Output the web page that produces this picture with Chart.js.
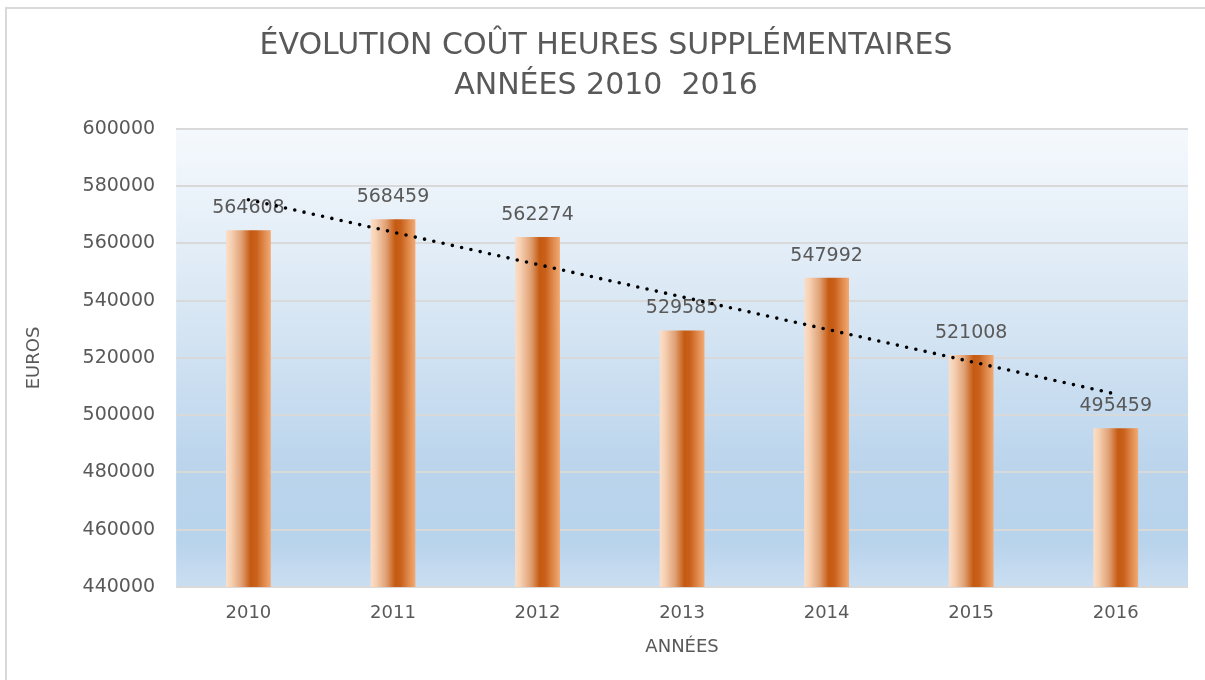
<!DOCTYPE html>
<html><head><meta charset="utf-8">
<script src="https://cdn.jsdelivr.net/npm/chart.js@4.4.1/dist/chart.umd.min.js"></script>
<style>html,body{margin:0;padding:0;background:#fff;overflow:hidden}canvas{display:block}</style>
</head><body>
<canvas id="c" width="1205" height="680"></canvas>
<script>
const years = ['2010', '2011', '2012', '2013', '2014', '2015', '2016'];
const costs = [564608, 568459, 562274, 529585, 547992, 521008, 495459];
const trendline = [575300, null, null, null, null, null, 507400];
const titleLines = ['ÉVOLUTION COÛT HEURES SUPPLÉMENTAIRES', 'ANNÉES 2010  2016'];
const yTitle = 'EUROS';
const xTitle = 'ANNÉES';
const yMin = 440000, yMax = 600000, yStep = 20000;

const FONT = 'DejaVu Sans';
const TXT = '#595959';
const BAR_PCT = 0.31;

const framePlugin = {
  id: 'frame',
  beforeDraw(chart) {
    const c = chart.ctx, a = chart.chartArea;
    c.save();
    c.fillStyle = '#ffffff';
    c.fillRect(0, 0, chart.width, chart.height);
    c.strokeStyle = '#d9d9d9';
    c.lineWidth = 2;
    c.beginPath();
    c.moveTo(6, chart.height);
    c.lineTo(6, 8);
    c.lineTo(chart.width, 8);
    c.stroke();
    const g = c.createLinearGradient(0, a.top, 0, a.bottom);
    g.addColorStop(0, '#f5f9fd');
    g.addColorStop(0.35, '#dce9f5');
    g.addColorStop(0.75, '#bad4ec');
    g.addColorStop(0.9, '#b8d3ec');
    g.addColorStop(1, '#cbdef1');
    c.fillStyle = g;
    c.fillRect(a.left, a.top, a.right - a.left, a.bottom - a.top);
    c.restore();
  }
};

const labelPlugin = {
  id: 'barLabels',
  afterDatasetDraw(chart, args) {
    if (args.index !== 0) return;
    const c = chart.ctx;
    const meta = chart.getDatasetMeta(0);
    c.save();
    c.fillStyle = TXT;
    c.font = '19px "' + FONT + '"';
    c.textAlign = 'center';
    c.textBaseline = 'middle';
    meta.data.forEach((el, i) => {
      c.fillText(String(costs[i]), el.x, el.y - 22);
    });
    c.restore();
  }
};

function barGradient(ctx) {
  const chart = ctx.chart;
  const xs = chart.scales && chart.scales.x;
  if (!xs || !chart.chartArea || ctx.dataIndex === undefined) return '#d0702c';
  const cx = xs.getPixelForValue(ctx.dataIndex);
  const w = (xs.width / years.length) * BAR_PCT;
  const g = chart.ctx.createLinearGradient(cx - w / 2, 0, cx + w / 2, 0);
  g.addColorStop(0, '#fadfcb');
  g.addColorStop(0.12, '#f6d0b2');
  g.addColorStop(0.35, '#e0a074');
  g.addColorStop(0.55, '#c55a11');
  g.addColorStop(0.68, '#c9611c');
  g.addColorStop(0.85, '#e08a4c');
  g.addColorStop(1, '#f2aa74');
  return g;
}

new Chart(document.getElementById('c'), {
  data: {
    labels: years,
    datasets: [
      {
        type: 'bar',
        data: costs,
        backgroundColor: barGradient,
        borderWidth: 0,
        barPercentage: BAR_PCT,
        categoryPercentage: 1,
        order: 2
      },
      {
        type: 'line',
        data: trendline,
        spanGaps: true,
        borderColor: '#000000',
        borderWidth: 3.6,
        borderDash: [0, 9.5],
        borderCapStyle: 'round',
        pointRadius: 0,
        fill: false,
        tension: 0,
        order: 1
      }
    ]
  },
  options: {
    responsive: false,
    animation: false,
    events: [],
    layout: { padding: { left: 24, right: 17, top: 0, bottom: 22 } },
    plugins: {
      legend: { display: false },
      tooltip: { enabled: false },
      title: {
        display: true,
        text: titleLines,
        color: TXT,
        font: { family: FONT, size: 30, weight: 'normal', lineHeight: 1.333 },
        padding: { top: 26, bottom: 23 }
      }
    },
    scales: {
      x: {
        grid: { display: false, drawTicks: false },
        border: { display: false },
        ticks: { color: TXT, font: { family: FONT, size: 18 }, padding: 16, maxRotation: 0 },
        title: { display: true, text: xTitle, color: TXT, font: { family: FONT, size: 18 }, padding: { top: 0, bottom: 0 } },
        afterFit: (scale) => { scale.height = 71; }
      },
      y: {
        min: yMin,
        max: yMax,
        border: { display: false },
        grid: { color: '#d9d9d9', lineWidth: 2, drawTicks: false },
        ticks: {
          stepSize: yStep,
          color: TXT,
          font: { family: FONT, size: 19 },
          padding: 21,
          callback: v => String(v)
        },
        title: { display: true, text: yTitle, color: TXT, font: { family: FONT, size: 18 }, padding: { top: 0, bottom: 16 } }
      }
    }
  },
  plugins: [framePlugin, labelPlugin]
});
</script>
</body></html>
